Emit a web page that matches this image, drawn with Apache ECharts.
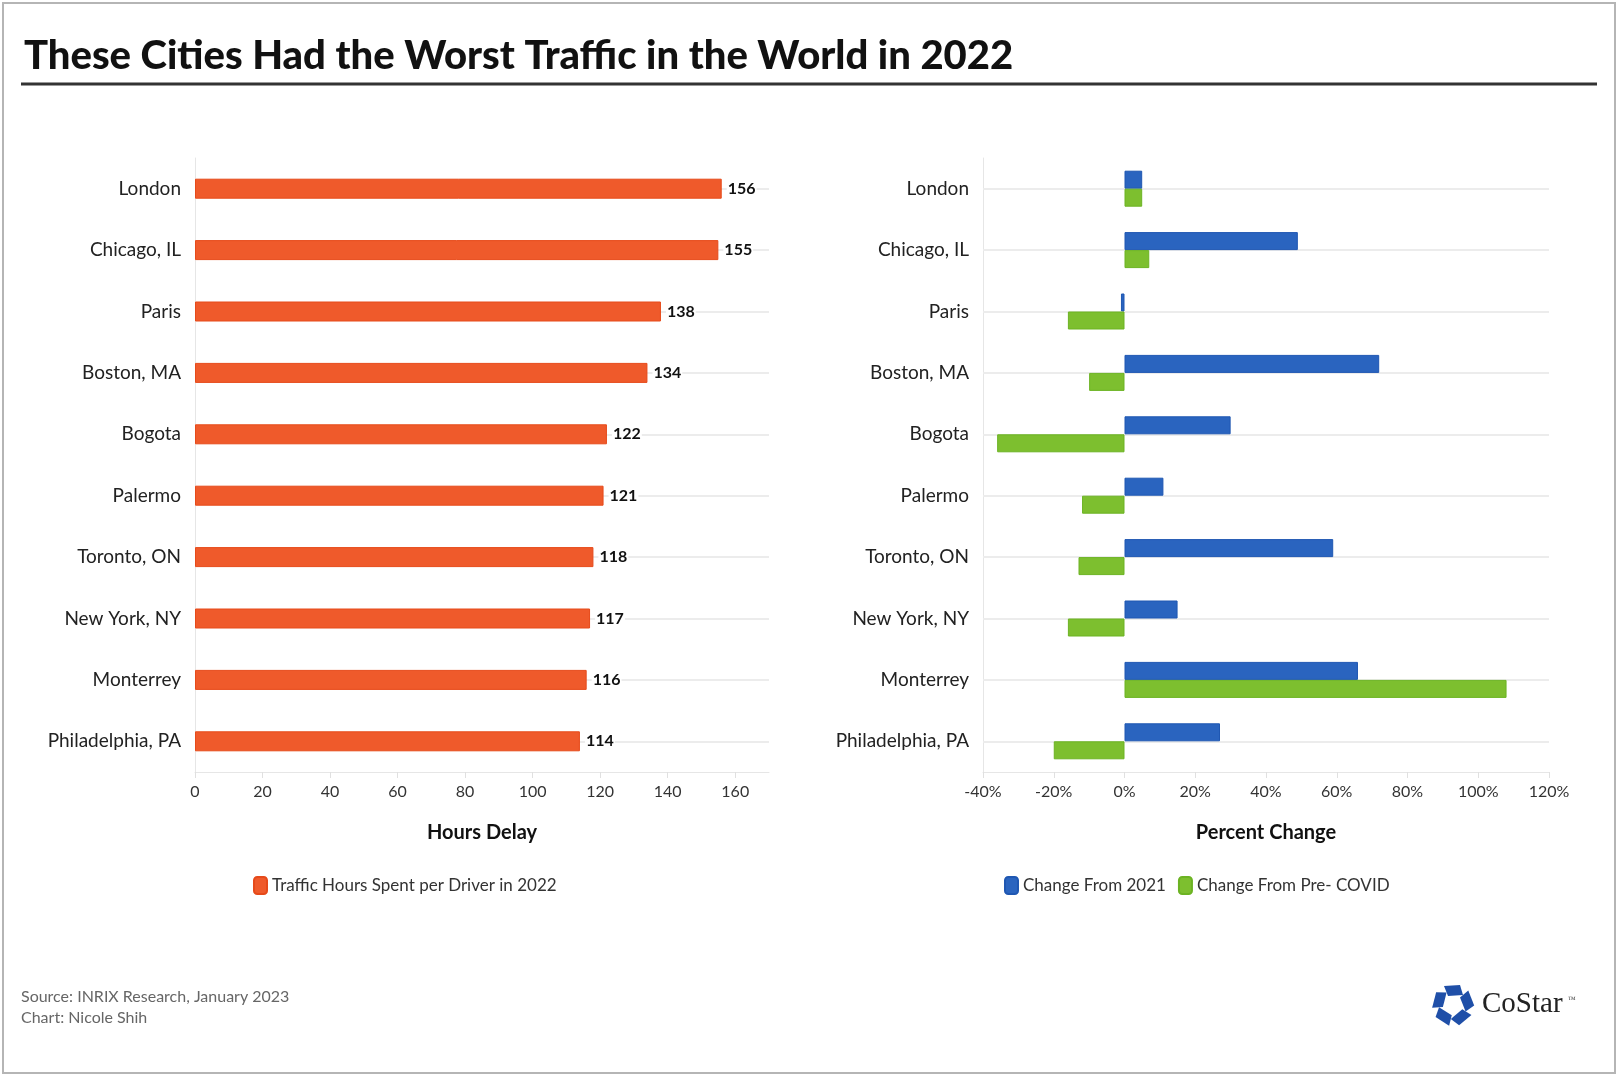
<!DOCTYPE html>
<html>
<head>
<meta charset="utf-8">
<script src="https://cdn.jsdelivr.net/npm/echarts@6/dist/echarts.min.js"></script>
<style>
  html, body { margin: 0; padding: 0; background: #fff; }
  #chart { width: 1619px; height: 1079px; }
</style>
</head>
<body>
<div id="chart"></div>
<script>
// data
var cities = ['London', 'Chicago, IL', 'Paris', 'Boston, MA', 'Bogota', 'Palermo', 'Toronto, ON', 'New York, NY', 'Monterrey', 'Philadelphia, PA'];
var hoursDelay = [156, 155, 138, 134, 122, 121, 118, 117, 116, 114];
var change2021 = [5, 49, -1, 72, 30, 11, 59, 15, 66, 27];
var changePreCovid = [5, 7, -16, -10, -36, -12, -13, -16, 108, -20];
var hoursTicks = { min: 0, max: 170, step: 20 };
var pctTicks = { min: -40, max: 120, step: 20 };

var FONT = 'Lato';
var chart = echarts.init(document.getElementById('chart'));

// light category lines running through each bar
function catLines() {
  return cities.map(function (c) { return { yAxis: c }; });
}

// CoStar mark: five pieces turned round a centre
function logoPieces(cx, cy) {
  var out = [];
  for (var i = 0; i < 5; i++) {
    var a = (i * 72) * Math.PI / 180;
    var pts = [[-9, -19], [7, -20], [10, -10], [-5, -9]].map(function (p) {
      var x = p[0], y = p[1];
      return [cx + x * Math.cos(a) - y * Math.sin(a),
              cy + x * Math.sin(a) + y * Math.cos(a)];
    });
    out.push({ type: 'polygon', shape: { points: pts }, style: { fill: '#1f4fa8' } });
  }
  return out;
}

var axisLabelStyle = { fontFamily: FONT, fontSize: 16, color: '#333', margin: 12 };
var catLabelStyle = { fontFamily: FONT, fontSize: 19, color: '#222', margin: 14 };
var nameStyle = { fontFamily: FONT, fontSize: 20, fontWeight: 'bold', color: '#111' };

var option = {
  backgroundColor: '#fff',
  textStyle: { fontFamily: FONT },
  title: {
    text: 'These Cities Had the Worst Traffic in the World in 2022',
    left: 19, top: 31,
    textStyle: { fontFamily: FONT, fontSize: 40, fontWeight: 900, color: '#111' }
  },
  legend: [{
    data: ['Traffic Hours Spent per Driver in 2022'],
    left: 248, top: 871,
    itemWidth: 13, itemHeight: 17, icon: 'roundRect', itemGap: 12,
    textStyle: { fontFamily: FONT, fontSize: 17, color: '#333' }
  }, {
    data: ['Change From 2021', 'Change From Pre- COVID'],
    left: 999, top: 871,
    itemWidth: 13, itemHeight: 17, icon: 'roundRect', itemGap: 12,
    textStyle: { fontFamily: FONT, fontSize: 17, color: '#333' }
  }],
  grid: [
    { left: 195, right: 850, top: 158, bottom: 307 },
    { left: 983, right: 70, top: 158, bottom: 307 }
  ],
  xAxis: [{
    gridIndex: 0, type: 'value',
    min: hoursTicks.min, max: hoursTicks.max, interval: hoursTicks.step,
    name: 'Hours Delay', nameLocation: 'middle', nameGap: 51, nameTextStyle: nameStyle,
    axisLine: { show: true, lineStyle: { color: '#e6e6e6' } },
    axisTick: { show: true, length: 6, lineStyle: { color: '#e0e0e0' } },
    axisLabel: Object.assign({ showMaxLabel: false }, axisLabelStyle),
    splitLine: { show: false }
  }, {
    gridIndex: 1, type: 'value',
    min: pctTicks.min, max: pctTicks.max, interval: pctTicks.step,
    name: 'Percent Change', nameLocation: 'middle', nameGap: 51, nameTextStyle: nameStyle,
    axisLine: { show: true, onZero: false, lineStyle: { color: '#e6e6e6' } },
    axisTick: { show: true, length: 6, lineStyle: { color: '#e0e0e0' } },
    axisLabel: Object.assign({ formatter: '{value}%' }, axisLabelStyle),
    splitLine: { show: false }
  }],
  yAxis: [{
    gridIndex: 0, type: 'category', data: cities, inverse: true,
    axisLine: { show: true, lineStyle: { color: '#e6e6e6' } },
    axisTick: { show: false },
    axisLabel: catLabelStyle,
    splitLine: { show: false }
  }, {
    gridIndex: 1, type: 'category', data: cities, inverse: true,
    axisLine: { show: true, onZero: false, lineStyle: { color: '#e6e6e6' } },
    axisTick: { show: false },
    axisLabel: catLabelStyle,
    splitLine: { show: false }
  }],
  series: [{
    type: 'line', xAxisIndex: 0, yAxisIndex: 0, data: [], z: 1, silent: true,
    markLine: { silent: true, z: 1, symbol: 'none', label: { show: false },
      lineStyle: { color: '#ececec', width: 2, type: 'solid' }, data: catLines() }
  }, {
    type: 'line', xAxisIndex: 1, yAxisIndex: 1, data: [], z: 1, silent: true,
    markLine: { silent: true, z: 1, symbol: 'none', label: { show: false },
      lineStyle: { color: '#ececec', width: 2, type: 'solid' }, data: catLines() }
  }, {
    name: 'Traffic Hours Spent per Driver in 2022',
    type: 'bar', xAxisIndex: 0, yAxisIndex: 0, z: 3,
    data: hoursDelay, barWidth: 20,
    itemStyle: { color: '#ef5a2b', borderColor: '#e64a1a', borderWidth: 1 },
    label: { show: true, position: 'right', distance: 5, fontFamily: FONT,
      fontSize: 16, fontWeight: 'bold', color: '#111',
      backgroundColor: '#fff', padding: [0, 1] }
  }, {
    name: 'Change From 2021',
    type: 'bar', xAxisIndex: 1, yAxisIndex: 1, z: 3,
    data: change2021, barWidth: 18, barGap: '0%',
    itemStyle: { color: '#2a64bf', borderColor: '#1f57b2', borderWidth: 1 }
  }, {
    name: 'Change From Pre- COVID',
    type: 'bar', xAxisIndex: 1, yAxisIndex: 1, z: 3,
    data: changePreCovid, barWidth: 18, barGap: '0%',
    itemStyle: { color: '#7dbf2f', borderColor: '#6cb323', borderWidth: 1 }
  }],
  graphic: [
    { type: 'rect', shape: { x: 3, y: 3, width: 1612, height: 1070 },
      style: { fill: 'none', stroke: '#b5b5b5', lineWidth: 2 }, silent: true },
    { type: 'line', shape: { x1: 21, y1: 84, x2: 1597, y2: 84 },
      style: { stroke: '#333', lineWidth: 3 }, silent: true },
    { type: 'text', left: 21, top: 989,
      style: { text: 'Source: INRIX Research, January 2023', fontFamily: FONT, fontSize: 16, fill: '#666' } },
    { type: 'text', left: 21, top: 1010,
      style: { text: 'Chart: Nicole Shih', fontFamily: FONT, fontSize: 16, fill: '#666' } },
    { type: 'group', children: logoPieces(1453, 1005) },
    { type: 'text', left: 1482, top: 990,
      style: { text: 'CoStar', fontFamily: 'Liberation Serif', fontSize: 29, fill: '#222' } },
    { type: 'text', left: 1568, top: 996,
      style: { text: '™', fontFamily: 'Liberation Serif', fontSize: 8, fill: '#444' } }
  ]
};

chart.setOption(option);
</script>
</body>
</html>
